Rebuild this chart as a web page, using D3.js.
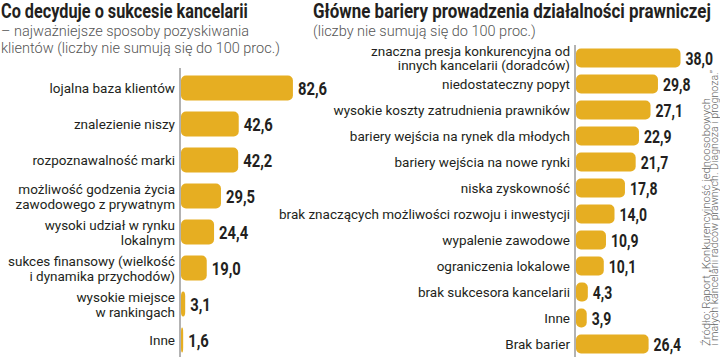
<!DOCTYPE html>
<html><head><meta charset="utf-8">
<script src="https://cdn.jsdelivr.net/npm/d3@7"></script>
<style>
html,body{margin:0;padding:0;background:#fff;}
svg{display:block;}
</style></head>
<body>
<svg id="c" width="720" height="357"></svg>
<script>
// ---- data ----
const leftTitle = "Co decyduje o sukcesie kancelarii";
const leftSubtitle = ["– najważniejsze sposoby pozyskiwania", "klientów (liczby nie sumują się do 100 proc.)"];
const leftCategories = [
  ["lojalna baza klientów"],
  ["znalezienie niszy"],
  ["rozpoznawalność marki"],
  ["możliwość godzenia życia", "zawodowego z prywatnym"],
  ["wysoki udział w rynku", "lokalnym"],
  ["sukces finansowy (wielkość", "i dynamika przychodów)"],
  ["wysokie miejsce", "w rankingach"],
  ["Inne"]
];
const leftValues = [82.6, 42.6, 42.2, 29.5, 24.4, 19.0, 3.1, 1.6];

const rightTitle = "Główne bariery prowadzenia działalności prawniczej";
const rightSubtitle = ["(liczby nie sumują się do 100 proc.)"];
const rightCategories = [
  ["znaczna presja konkurencyjna od", "innych kancelarii (doradców)"],
  ["niedostateczny popyt"],
  ["wysokie koszty zatrudnienia prawników"],
  ["bariery wejścia na rynek dla młodych"],
  ["bariery wejścia na nowe rynki"],
  ["niska zyskowność"],
  ["brak znaczących możliwości rozwoju i inwestycji"],
  ["wypalenie zawodowe"],
  ["ograniczenia lokalowe"],
  ["brak sukcesora kancelarii"],
  ["Inne"],
  ["Brak barier"]
];
const rightValues = [38.0, 29.8, 27.1, 22.9, 21.7, 17.8, 14.0, 10.9, 10.1, 4.3, 3.9, 26.4];

const sourceLines = ["Źródło: Raport „Konkurencyjność jednoosobowych", "i małych kancelarii radców prawnych. Diagnoza i prognoza.”"];

// ---- drawing ----
const svg = d3.select("#c");
const BAR = "#E6AE22";
const TXT = "#231f20";
const SUB = "#555";
const labelFont = "Roboto, 'Open Sans', sans-serif";
const boldFont = "Roboto, sans-serif";
const fmt = v => d3.format(".1f")(v).replace(".", ",");

// horizontally condense a text (anchored at start) via a transform
function condense(sel, x, y, factorOrWidth, isWidth) {
  sel.each(function () {
    const w = this.getComputedTextLength();
    const s = isWidth ? factorOrWidth / w : factorOrWidth;
    d3.select(this).attr("x", 0).attr("y", 0)
      .attr("transform", `translate(${x},${y}) scale(${s},1)`);
  });
}

function panel(opts) {
  const g = svg.append("g");
  g.append("text")
    .attr("font-family", boldFont).attr("font-weight", "bold").attr("font-size", 20)
    .attr("fill", TXT).text(opts.title)
    .call(condense, opts.tx, 18, opts.titleW, true);
  opts.subtitle.forEach((s, i) => {
    g.append("text").attr("x", opts.tx).attr("y", 36 + i * 17)
      .attr("font-family", labelFont).attr("font-weight", 300).attr("font-size", 14.5)
      .attr("fill", SUB).text(s);
  });
  const idx = d3.range(opts.values.length);
  const y = d3.scalePoint().domain(idx).range(opts.yRange);
  const x = d3.scaleLinear().domain(opts.xDomain).range(opts.xRange);
  const bh = opts.barH;
  g.selectAll("rect.bar").data(idx).join("rect").attr("class", "bar")
    .attr("x", x(0)).attr("y", i => y(i) - bh / 2)
    .attr("width", i => x(opts.values[i]) - x(0)).attr("height", bh)
    .attr("rx", 5).attr("ry", 5).attr("fill", BAR);
  g.append("line").attr("x1", x(0) - 1).attr("x2", x(0) - 1)
    .attr("y1", opts.axisTop).attr("y2", 357).attr("stroke", "#666").attr("stroke-width", 1);
  idx.forEach(i => {
    const lines = opts.categories[i];
    const lh = opts.lineH;
    const y0 = y(i) - (lines.length - 1) * lh / 2 + 5;
    lines.forEach((l, k) => {
      g.append("text").attr("text-anchor", "end")
        .attr("font-family", labelFont).attr("font-size", opts.labelSize).attr("fill", TXT)
        .attr("x", x(0) - 6).attr("y", y0 + k * lh).text(l);
    });
  });
  g.selectAll("text.val").data(idx).join("text").attr("class", "val")
    .attr("font-family", boldFont).attr("font-weight", "bold").attr("font-size", opts.valSize)
    .attr("fill", TXT).text(i => fmt(opts.values[i]))
    .each(function (i) {
      d3.select(this).call(condense, x(opts.values[i]) + 5, y(i) + 6.5, 0.8, false);
    });
}

panel({
  title: leftTitle, subtitle: leftSubtitle, tx: 1, titleW: 247,
  categories: leftCategories, values: leftValues,
  yRange: [88, 340], xDomain: [0, 100], xRange: [181, 316.5],
  barH: 25, axisTop: 68, lineH: 15, labelSize: 13.5, valSize: 18.5
});
panel({
  title: rightTitle, subtitle: rightSubtitle, tx: 313, titleW: 398,
  categories: rightCategories, values: rightValues,
  yRange: [58, 344], xDomain: [0, 40], xRange: [576, 686],
  barH: 19, axisTop: 45, lineH: 14.5, labelSize: 13.5, valSize: 17.5
});

const src = svg.append("text")
  .attr("transform", "translate(710,346) rotate(-90)")
  .attr("font-family", labelFont).attr("font-weight", 300).attr("font-size", 10).attr("fill", "#666");
const srcW = [248, 276];
sourceLines.forEach((l, k) => src.append("tspan").attr("x", 0).attr("y", k * 8)
  .attr("textLength", srcW[k]).attr("lengthAdjust", "spacingAndGlyphs").text(l));
</script>
</body></html>
